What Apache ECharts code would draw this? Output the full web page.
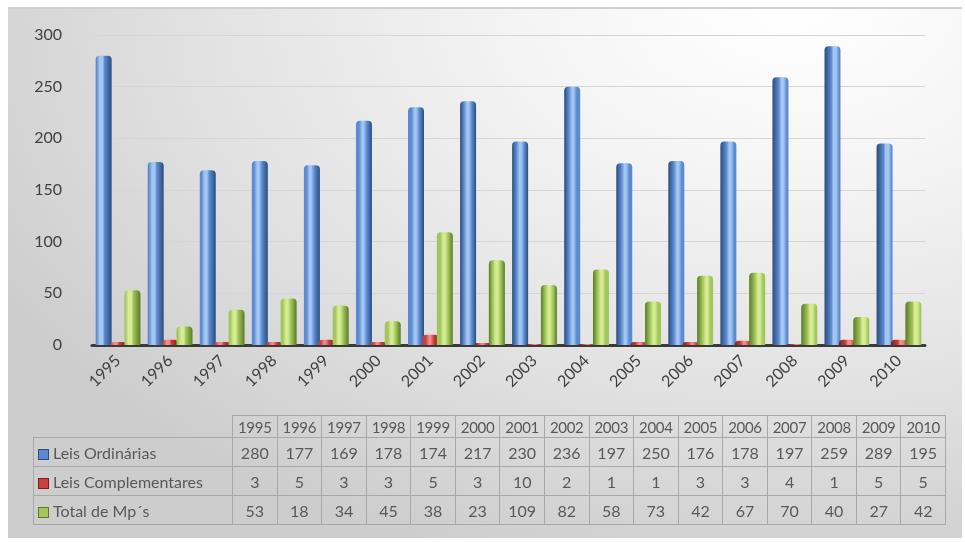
<!DOCTYPE html>
<html lang="pt">
<head>
<meta charset="UTF-8">
<title>Leis Ordinárias, Complementares e MPs 1995-2010</title>
<script src="https://cdn.jsdelivr.net/npm/echarts@6/dist/echarts.min.js"></script>
<style>
    * {
        margin: 0;
        padding: 0;
        box-sizing: border-box;
    }

    html, body {
        width: 965px;
        height: 542px;
        background: #fff;
        overflow: hidden;
    }

    #panel {
        position: absolute;
        left: 8px;
        top: 7px;
        width: 954px;
        height: 531px;
        border-top: 2px solid #cfcfcf;
        background: radial-gradient(ellipse 95% 110% at 82% 0%, #ffffff 0%, #f4f4f4 30%, #e2e2e2 65%, #cdcdcd 100%);
    }

    #chart {
        position: absolute;
        left: 0;
        top: 0;
        width: 965px;
        height: 542px;
    }

    #tabela {
        position: absolute;
        left: 33px;
        top: 415px;
        width: 913px;
        border-collapse: collapse;
        font-family: Lato, "Open Sans", sans-serif;
        color: #595959;
        table-layout: fixed;
    }

    #tabela td {
        border: 1px solid #a8a8a8;
        text-align: center;
        font-size: 15px;
        white-space: nowrap;
        overflow: hidden;
    }

    #tabela tr.anos td {
        height: 22px;
        font-size: 15px;
        letter-spacing: -0.3px;
    }

    #tabela tr.linha td {
        height: 29px;
        font-size: 16px;
    }

    #tabela td.rotulo {
        text-align: left;
        padding-left: 4px;
        font-size: 15px;
    }

    #tabela td.vazio {
        border: none;
    }

    .chave {
        display: inline-block;
        width: 11px;
        height: 11px;
        margin-right: 4px;
        vertical-align: -1px;
    }
</style>
</head>
<body>
<div id="panel"></div>
<div id="chart"></div>
<table id="tabela"></table>
<script>
    var anos = ['1995', '1996', '1997', '1998', '1999', '2000', '2001', '2002',
        '2003', '2004', '2005', '2006', '2007', '2008', '2009', '2010'];
    var leisOrdinarias = [280, 177, 169, 178, 174, 217, 230, 236, 197, 250, 176, 178, 197, 259, 289, 195];
    var leisComplementares = [3, 5, 3, 3, 5, 3, 10, 2, 1, 1, 3, 3, 4, 1, 5, 5];
    var totalMps = [53, 18, 34, 45, 38, 23, 109, 82, 58, 73, 42, 67, 70, 40, 27, 42];
    var nomes = ['Leis Ordinárias', 'Leis Complementares', 'Total de Mp´s'];

    // cores: [claro, médio, escuro]
    var cores = [
        ['#a3c6f2', '#5b8ad0', '#2b4c7e'],
        ['#f08a86', '#c9413c', '#7e1d1a'],
        ['#d6ec94', '#a2c65c', '#5b7a25']
    ];

    // cilindro: o lado escuro passa da direita para a esquerda (perspectiva)
    function cilindro(c) {
        return function (p) {
            var t = p.dataIndex / (anos.length - 1);
            var dEsq = 0.05 + 0.4 * t;
            var dDir = 0.05 + 0.4 * (1 - t);
            return new echarts.graphic.LinearGradient(0, 0, 1, 0, [
                {offset: 0, color: t > 0.4 ? c[2] : c[1]},
                {offset: dEsq, color: c[1]},
                {offset: Math.min(dEsq + 0.2, 0.55), color: c[0]},
                {offset: Math.max(1 - dDir - 0.2, 0.45), color: c[0]},
                {offset: 1 - dDir, color: c[1]},
                {offset: 1, color: t < 0.6 ? c[2] : c[1]}
            ]);
        };
    }

    var myChart = echarts.init(document.getElementById('chart'));

    var fonte = 'Lato, "Open Sans", sans-serif';

    var option = {
        backgroundColor: 'transparent',
        animation: false,
        grid: {
            left: 92,
            right: 40,
            top: 35,
            bottom: 197
        },
        xAxis: {
            type: 'category',
            data: anos,
            axisLine: {
                lineStyle: {color: '#3a3a3a', width: 3}
            },
            axisTick: {show: false},
            axisLabel: {
                rotate: 45,
                margin: 13,
                color: '#404040',
                fontSize: 16,
                fontFamily: fonte
            }
        },
        yAxis: {
            type: 'value',
            min: 0,
            max: 300,
            interval: 50,
            axisLine: {show: false},
            axisTick: {show: false},
            axisLabel: {
                margin: 30,
                color: '#404040',
                fontSize: 16,
                fontFamily: fonte
            },
            splitLine: {
                lineStyle: {color: '#d6d6d6'}
            }
        },
        series: [
            {
                name: nomes[0],
                type: 'bar',
                data: leisOrdinarias,
                barWidth: 16,
                barGap: '-10%',
                itemStyle: {color: cilindro(cores[0]), borderRadius: [4, 4, 0, 0]}
            },
            {
                name: nomes[1],
                type: 'bar',
                data: leisComplementares,
                barWidth: 16,
                barGap: '-10%',
                itemStyle: {color: cilindro(cores[1]), borderRadius: [4, 4, 0, 0]}
            },
            {
                name: nomes[2],
                type: 'bar',
                data: totalMps,
                barWidth: 16,
                barGap: '-10%',
                itemStyle: {color: cilindro(cores[2]), borderRadius: [4, 4, 0, 0]}
            }
        ]
    };

    myChart.setOption(option);

    // tabela de dados abaixo do gráfico
    var tabela = document.getElementById('tabela');
    var html = '<colgroup><col style="width:199px">';
    anos.forEach(function () {
        html += '<col>';
    });
    html += '</colgroup><tr class="anos"><td class="rotulo vazio"></td>';
    anos.forEach(function (a) {
        html += '<td>' + a + '</td>';
    });
    html += '</tr>';
    [leisOrdinarias, leisComplementares, totalMps].forEach(function (serie, i) {
        html += '<tr class="linha"><td class="rotulo"><span class="chave" style="background:' + cores[i][1] +
            ';border:1px solid ' + cores[i][2] + '"></span>' + nomes[i] + '</td>';
        serie.forEach(function (v) {
            html += '<td>' + v + '</td>';
        });
        html += '</tr>';
    });
    tabela.innerHTML = html;
</script>
</body>
</html>
